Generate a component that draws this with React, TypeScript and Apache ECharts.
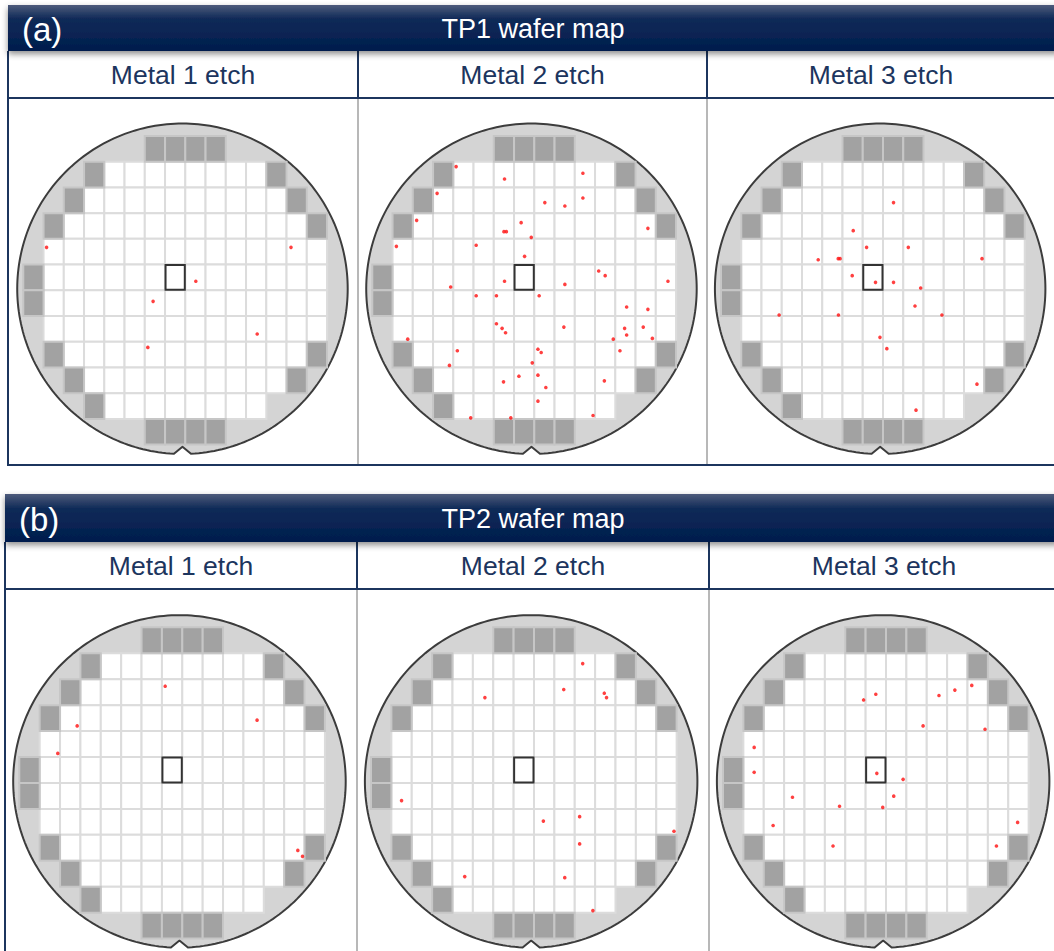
import React, { useEffect, useRef } from "react";
import * as echarts from "echarts";

// Die layout on a 16 x 12 die grid (column, row), row 0 at the top of the wafer.
// Product dies: one [first, last] column span per row (null = no product dies).
const PRODUCT_SPANS: ([number, number] | null)[] = [
  null, [4, 11], [3, 12], [2, 13], [1, 14], [1, 14],
  [1, 14], [1, 14], [2, 13], [3, 12], [4, 11], null,
];
// Partial / edge dies drawn in dark grey.
const EDGE_DIES: [number, number][] = [
  [6, 0], [7, 0], [8, 0], [9, 0],
  [3, 1], [12, 1], [2, 2], [13, 2], [1, 3], [14, 3],
  [0, 5], [0, 6],
  [1, 8], [14, 8], [2, 9], [13, 9], [3, 10],
  [6, 11], [7, 11], [8, 11], [9, 11],
];
const REFERENCE_DIE: [number, number] = [7, 5];

const PANEL_TAGS = ["(a)", "(b)"];
const PANEL_TITLES = ["TP1 wafer map", "TP2 wafer map"];
const STEP_LABELS = ["Metal 1 etch", "Metal 2 etch", "Metal 3 etch"];

// Defect locations in die units [x, y]
const TP1_M1_DEFECTS: [number, number][] = [
  [1.15, 4.33], [13.22, 4.33], [8.52, 5.65], [6.41, 6.43], [11.55, 7.7], [6.15, 8.22],
];
const TP1_M2_DEFECTS: [number, number][] = [
  [4.14, 1.19], [6.53, 1.67], [10.4, 1.45], [3.2, 2.23], [8.52, 2.59], [9.51, 2.72],
  [10.4, 2.41], [2.19, 3.28], [7.35, 3.37], [6.5, 3.72], [6.62, 3.72], [7.85, 3.94],
  [13.61, 3.59], [1.19, 4.29], [5.13, 4.25], [7.52, 4.68], [11.18, 5.25], [11.5, 5.43],
  [6.53, 5.65], [9.51, 5.77], [14.6, 5.65], [3.87, 5.87], [5.13, 6.21], [6.13, 6.21],
  [8.24, 6.21], [12.56, 6.65], [13.61, 6.74], [6.13, 7.3], [6.41, 7.48], [6.58, 7.65],
  [9.46, 7.43], [12.46, 7.48], [12.56, 7.74], [13.38, 7.43], [11.9, 7.9], [13.83, 7.87],
  [1.75, 7.9], [4.2, 8.35], [8.18, 8.29], [8.34, 8.42], [12.23, 8.35], [3.81, 8.92],
  [7.9, 8.82], [7.24, 9.34], [8.18, 9.3], [6.48, 9.56], [8.57, 9.78], [11.46, 9.52],
  [8.18, 10.31], [4.86, 10.96], [6.84, 10.96], [10.9, 10.87],
];
const TP1_M3_DEFECTS: [number, number][] = [
  [8.52, 2.59], [6.53, 3.68], [7.19, 4.33], [9.25, 4.33], [4.8, 4.81], [5.79, 4.77],
  [5.88, 4.77], [12.89, 4.77], [6.48, 5.43], [7.63, 5.69], [8.52, 5.69], [9.86, 5.91],
  [9.58, 6.61], [2.87, 6.96], [5.8, 6.96], [10.91, 6.96], [7.85, 7.83], [8.19, 8.27],
  [12.64, 9.65], [9.63, 10.66],
];
const TP2_M1_DEFECTS: [number, number][] = [
  [7.16, 2.27], [2.84, 3.8], [11.67, 3.58], [1.89, 4.86], [13.67, 8.6], [13.9, 8.83],
];
const TP2_M2_DEFECTS: [number, number][] = [
  [10.39, 1.4], [9.46, 2.4], [11.45, 2.54], [11.56, 2.71], [5.59, 2.71], [1.5, 6.68],
  [8.46, 7.47], [10.24, 7.3], [14.87, 7.86], [10.24, 8.35], [4.6, 9.61], [9.51, 9.65],
  [10.89, 10.92],
];
const TP2_M3_DEFECTS: [number, number][] = [
  [6.9, 2.8], [7.5, 2.58], [10.6, 2.63], [11.38, 2.42], [12.21, 2.24], [9.82, 3.8],
  [12.86, 3.93], [1.53, 4.63], [1.53, 5.59], [7.55, 5.63], [8.84, 5.86], [3.41, 6.55],
  [8.38, 6.51], [5.72, 6.9], [7.84, 6.94], [2.46, 7.64], [14.46, 7.52], [5.4, 8.43],
  [13.42, 8.43],
];

const WAFER_DEFECTS = [
  TP1_M1_DEFECTS, TP1_M2_DEFECTS, TP1_M3_DEFECTS,
  TP2_M1_DEFECTS, TP2_M2_DEFECTS, TP2_M3_DEFECTS,
];

// Wafer disc centre and radius in die units
const WAFER_CENTER: [number, number] = [7.86, 5.94];
const WAFER_RADIUS = 8.16;

const NAVY = "#1c355e";
const FONT = '"Liberation Sans", Arial, sans-serif';

// Pixel placement of each wafer's die grid
const GRID_BOXES = [
  { left: 23.3, top: 136, width: 324, height: 308.6 },
  { left: 372.3, top: 136, width: 324, height: 308.6 },
  { left: 721, top: 136, width: 324, height: 308.6 },
  { left: 19.3, top: 627.3, width: 326, height: 311.3 },
  { left: 371, top: 627.3, width: 326, height: 311.3 },
  { left: 723, top: 627.3, width: 326, height: 311.3 },
];

function buildDies() {
  const dies: number[][] = [];
  PRODUCT_SPANS.forEach((span, row) => {
    if (!span) return;
    for (let c = span[0]; c <= span[1]; c++) dies.push([c, row, 0]);
  });
  EDGE_DIES.forEach(([c, r]) => dies.push([c, r, 1]));
  dies.push([REFERENCE_DIE[0], REFERENCE_DIE[1], 2]);
  return dies;
}

function panelGraphics(
  idx: number,
  frame: { left: number; barTop: number; barBottom: number; headBottom: number; bodyBottom: number; seps: number[]; centers: number[]; closed: boolean }
) {
  const els: any[] = [];
  const barMid = (frame.barTop + frame.barBottom) / 2;
  const headMid = (frame.barBottom + frame.headBottom) / 2;
  els.push({
    type: "rect",
    shape: { x: frame.left, y: frame.barTop, width: 1060 - frame.left, height: frame.barBottom - frame.barTop },
    style: {
      fill: new echarts.graphic.LinearGradient(0, 0, 0, 1, [
        { offset: 0, color: "#4d5b7b" },
        { offset: 0.3, color: "#102a58" },
        { offset: 1, color: "#001d4d" },
      ]),
      shadowBlur: 6,
      shadowOffsetY: 3,
      shadowColor: "rgba(0,0,0,0.45)",
    },
    z: 5,
  });
  els.push({
    type: "text",
    style: { text: PANEL_TAGS[idx], x: frame.left + 14, y: barMid + 1, fill: "#ffffff", font: `33px ${FONT}`, textVerticalAlign: "middle" },
    z: 6,
  });
  els.push({
    type: "text",
    style: { text: PANEL_TITLES[idx], x: 533, y: barMid + 1, fill: "#ffffff", font: `27px ${FONT}`, textAlign: "center", textVerticalAlign: "middle" },
    z: 6,
  });
  // Column headers
  STEP_LABELS.forEach((label, i) => {
    els.push({
      type: "text",
      style: { text: label, x: frame.centers[i], y: headMid, fill: NAVY, font: `26.5px ${FONT}`, textAlign: "center", textVerticalAlign: "middle" },
      z: 6,
    });
  });
  const line = (x1: number, y1: number, x2: number, y2: number, stroke: string, w = 2) =>
    els.push({ type: "line", shape: { x1, y1, x2, y2 }, style: { stroke, lineWidth: w }, z: 4 });
  line(frame.left, frame.barBottom, frame.left, frame.bodyBottom, NAVY);
  line(frame.left, frame.headBottom, 1060, frame.headBottom, NAVY);
  frame.seps.forEach((x) => {
    line(x, frame.barBottom, x, frame.headBottom, NAVY);
    line(x, frame.headBottom + 1, x, frame.bodyBottom, "#b8b8b8");
  });
  if (frame.closed) line(frame.left - 1, frame.bodyBottom, 1060, frame.bodyBottom, NAVY);
  return els;
}

export default function App() {
  const ref = useRef<HTMLDivElement>(null);

  useEffect(() => {
    if (!ref.current) return;
    const chart = echarts.init(ref.current, undefined, { renderer: "svg" });
    const dies = buildDies();

    const grids = GRID_BOXES.map((g) => ({ ...g, show: false }));
    const xAxes = GRID_BOXES.map((_, i) => ({ gridIndex: i, type: "value", min: 0, max: 16, show: false }));
    const yAxes = GRID_BOXES.map((_, i) => ({ gridIndex: i, type: "value", min: 0, max: 12, inverse: true, show: false }));

    const series: any[] = [];
    GRID_BOXES.forEach((_, i) => {
      // Wafer disc with its bottom notch
      series.push({
        type: "custom",
        xAxisIndex: i,
        yAxisIndex: i,
        z: 1,
        silent: true,
        data: [WAFER_CENTER],
        renderItem: (_p: any, api: any) => {
          const c = api.coord([api.value(0), api.value(1)]);
          const r = api.size([WAFER_RADIUS, 0])[0];
          const notchHalf = 8.5;
          const notchDepth = 7;
          const d = Math.asin(notchHalf / r);
          const pts: number[][] = [];
          const n = 260;
          for (let k = 0; k <= n; k++) {
            const t = Math.PI / 2 + d + ((2 * Math.PI - 2 * d) * k) / n;
            pts.push([c[0] + r * Math.cos(t), c[1] + r * Math.sin(t)]);
          }
          pts.push([c[0], c[1] + r * Math.cos(d) - notchDepth]);
          return {
            type: "polygon",
            shape: { points: pts },
            style: { fill: "#d4d4d4", stroke: "#3c3c3c", lineWidth: 2 },
          };
        },
      });
      // Dies
      series.push({
        type: "custom",
        xAxisIndex: i,
        yAxisIndex: i,
        z: 2,
        silent: true,
        data: dies,
        renderItem: (_p: any, api: any) => {
          const col = api.value(0);
          const row = api.value(1);
          const kind = api.value(2);
          const a = api.coord([col, row]);
          const b = api.coord([col + 1, row + 1]);
          const x = Math.min(a[0], b[0]);
          const y = Math.min(a[1], b[1]);
          const w = Math.abs(b[0] - a[0]);
          const h = Math.abs(b[1] - a[1]);
          if (kind === 2) {
            return {
              type: "rect",
              z2: 10,
              shape: { x: x + 0.5, y: y + 0.5, width: w - 1, height: h - 1 },
              style: { fill: "#ffffff", stroke: "#333333", lineWidth: 2 },
            };
          }
          return {
            type: "rect",
            shape: { x, y, width: w, height: h },
            style:
              kind === 1
                ? { fill: "#a2a2a2", stroke: "#c6c6c6", lineWidth: 2 }
                : { fill: "#ffffff", stroke: "#dcdcdc", lineWidth: 2 },
          };
        },
      });
      // Defects
      series.push({
        type: "scatter",
        xAxisIndex: i,
        yAxisIndex: i,
        z: 3,
        silent: true,
        symbol: "circle",
        symbolSize: 3.6,
        itemStyle: { color: "#ff1010" },
        data: WAFER_DEFECTS[i],
      });
    });

    const graphics = [
      ...panelGraphics(0, {
        left: 8, barTop: 5, barBottom: 51, headBottom: 98, bodyBottom: 465,
        seps: [358, 707], centers: [183, 532.5, 881], closed: true,
      }),
      ...panelGraphics(1, {
        left: 5, barTop: 494, barBottom: 542, headBottom: 589, bodyBottom: 960,
        seps: [357, 709], centers: [181, 533, 884], closed: false,
      }),
    ];

    chart.setOption({
      animation: false,
      backgroundColor: "#ffffff",
      grid: grids,
      xAxis: xAxes,
      yAxis: yAxes,
      series,
      graphic: { elements: graphics },
    });

    return () => chart.dispose();
  }, []);

  return (
    <div
      ref={ref}
      style={{ position: "fixed", left: 0, top: 0, width: 1054, height: 951 }}
    />
  );
}
